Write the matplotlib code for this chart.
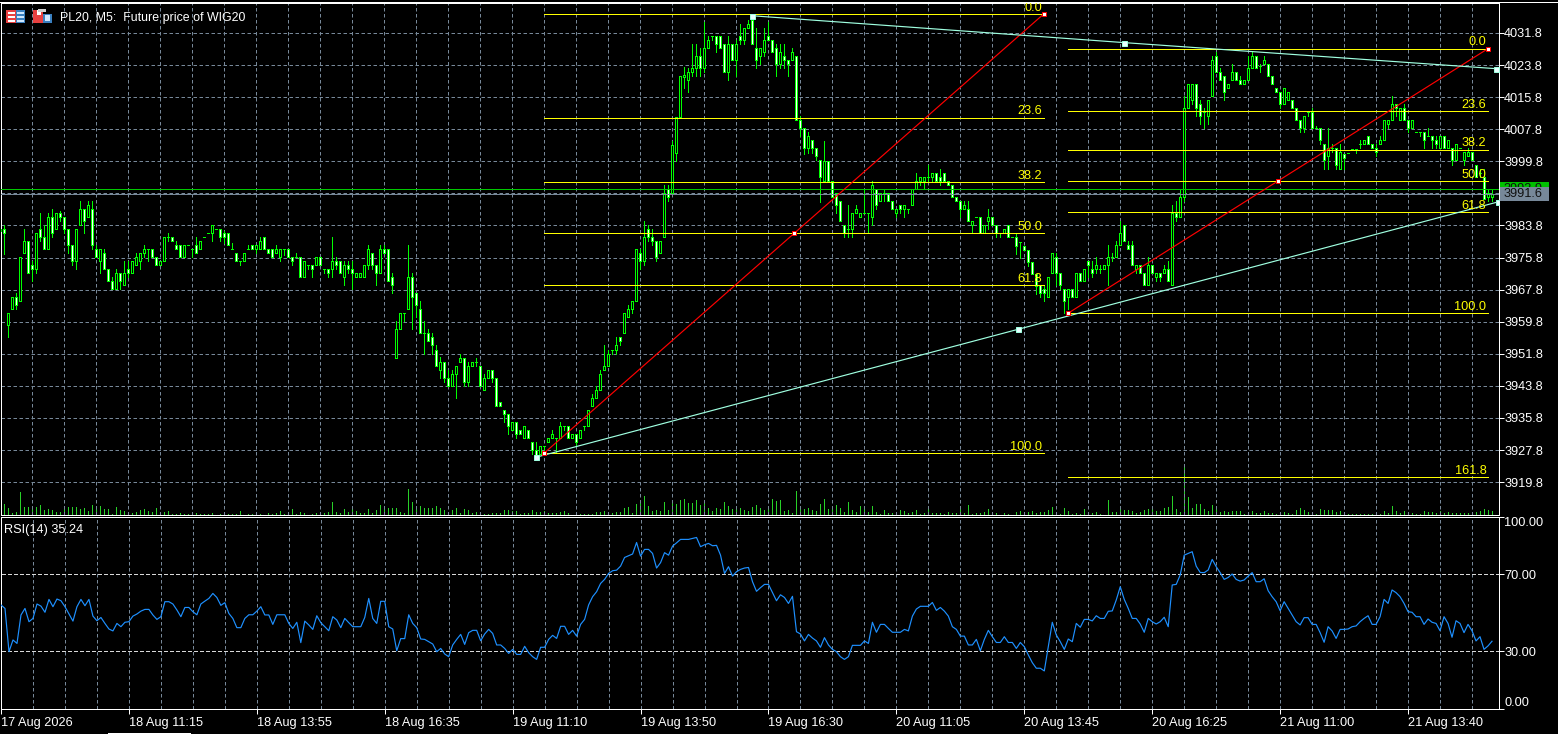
import numpy as np
import matplotlib
matplotlib.use('Agg')
import matplotlib.pyplot as plt
from matplotlib.patches import Rectangle
from matplotlib.lines import Line2D

#Candles, bar by bar
opens = [
  3983,3983,3959,3963,3966,3965,3977,3980,3974,3973,
  3983,3981,3978,3986,3983,3987,3986,3983,3979,3975,
  3984,3988,3986,3988,3978,3975,3977,3973,3970,3968,
  3972,3969,3973,3972,3974,3975,3977,3978,3978,3976,
  3974,3975,3981,3981,3979,3979,3976,3979,3978,3979,
  3978,3981,3982,3982,3983,3983,3982,3982,3978,3977,
  3975,3975,3978,3979,3978,3978,3981,3978,3978,3977,
  3976,3978,3978,3976,3976,3976,3971,3974,3974,3974,
  3976,3973,3973,3973,3975,3975,3971,3974,3973,3971,
  3971,3971,3974,3977,3974,3972,3978,3978,3971,3950.8,
  3958,3962,3963,3971,3967,3963,3957,3957,3956,3952.8,
  3947.8,3949.8,3945.8,3943.8,3946.8,3949.8,3950.8,3944.8,3948.8,3949.8,
  3948.8,3942.8,3945.8,3947.8,3945.8,3939.8,3937.8,3936.8,3932.8,3934.8,
  3932.8,3930.8,3932.8,3929.8,3927.8,3926.8,3928.8,3929.8,3930.8,3930.8,
  3930.8,3933.8,3933.8,3930.8,3931.8,3930.8,3933.8,3933.8,3938.8,3940.8,
  3942.8,3947.8,3948.8,3952.8,3952.8,3956,3957,3961,3962.9,3964.9,
  3976.9,3974.9,3982.9,3980.9,3979.9,3976.9,3980.9,3992.9,3991.9,4001.9,
  4010.9,4020.9,4020,4022,4023,4026,4023,4028,4031,4031,
  4031,4029,4022,4029,4025,4031,4030,4033,4035,4028,
  4026,4027,4031,4030,4028,4024,4026,4025,4025,4026,
  4010,4008,4003,4005,4003,4000,3994.8,3999.8,3994.8,3991.8,
  3989.8,3983.8,3982.8,3982.8,3986.8,3985.8,3986.8,3986.8,3985.8,3992.8,
  3989.8,3991.8,3991.8,3989.8,3986.8,3988.8,3987.8,3987.8,3988.8,3992.8,
  3994.8,3994.8,3995.8,3995.8,3996.8,3995.8,3996.8,3994.8,3993.8,3990.8,
  3989.8,3987.8,3987.8,3983.8,3985.8,3985.8,3981.8,3984.8,3985.8,3983.8,
  3981.8,3981.8,3983.8,3981,3980.8,3979.8,3978.8,3977.8,3974.8,3971.8,
  3969,3968,3966,3972,3976,3972,3968,3966,3968,3966,
  3972,3970,3975,3973,3973,3973,3973,3974,3976,3976,
  3979,3984,3979,3979,3973,3974,3972,3969,3974,3971,
  3972,3972,3973,3969,3987,3986,3991,4013,4015,4019,
  4014,4012,4011,4016,4026,4022,4021,4018,4020,4022,
  4020,4019,4020,4023,4026,4023.5,4024,4024,4021,4018,
  4017,4014,4015,4015,4013,4010,4008,4012,4012,4008,
  4008,4004,4001,4003,4003,3998,4001.5,4001.8,4002.8,4002.8,
  4004,4004,4006,4004,4003,4004,4005,4009,4010,4014,
  4010,4013,4010,4008,4007,4007,4007,4006,4006,4005,
  4003,4006,4003,4003,4000,4003,4000,4001,4002,3999,
  3997,3996,3990.8,3990.8]
closes = [
  3982.5,3982,3962,3966,3964,3976,3980,3972,3973,3982,
  3981,3978,3986,3982,3987,3986,3983,3979,3975,3983,
  3988,3985,3989,3979,3976,3978,3973,3970,3968,3972,
  3970,3972,3972,3975,3976,3977,3978,3978,3976,3974,
  3975,3981,3981,3980,3978,3976,3979,3979,3978,3977,
  3980,3981,3982,3984,3983,3981,3981,3979,3978,3975,
  3975,3977,3978,3978,3979,3980,3978,3977,3976,3978,
  3978,3978,3976,3975,3976,3971,3975,3974,3973,3976,
  3974,3973,3972,3975,3974,3972,3974,3973,3972,3972,
  3972,3974,3978,3974,3972,3978,3977,3970,3969,3958,
  3962,3962,3971,3966,3964,3957,3957,3955,3954,3948.8,
  3949.8,3945.8,3943.8,3946.8,3948.8,3950.8,3944.8,3948.8,3949.8,3949.8,
  3943.8,3945.8,3947.8,3945.8,3938.8,3938.8,3936.8,3933.8,3934.8,3931.8,
  3931.8,3933.8,3930.8,3927.8,3925.8,3928.8,3928.8,3930.8,3931.8,3930.8,
  3933.8,3933.8,3930.8,3931.8,3929.8,3932.8,3933.8,3937.8,3940.8,3942.8,
  3946.8,3948.8,3951.8,3952.8,3954,3955,3962,3963,3964.9,3977.9,
  3974.9,3980.9,3980.9,3979.9,3975.9,3979.9,3991.9,3990.9,4003.9,4010.9,
  4021,4021.3,4022,4023,4026,4023,4028,4030,4031,4029,
  4028,4022,4029,4025,4029,4030,4033,4034,4029,4025,
  4028,4030,4030,4027,4024,4027,4025,4024,4027,4010,
  4008,4003,4006,4003,4001,3996,3999.8,3994.8,3990.8,3988.8,
  3984.8,3981.8,3982.8,3986.8,3987.8,3986.8,3986.8,3986.8,3993.8,3988.8,
  3991.8,3991.8,3989.8,3987.8,3987.8,3987.8,3988.8,3987.8,3992.8,3994.8,
  3995.8,3995.8,3995.8,3996.8,3994.8,3994.8,3994.8,3993.8,3990.8,3989.8,
  3987.8,3988.8,3984.8,3984.8,3985.8,3981.8,3983.8,3985.8,3983.8,3981.8,
  3981.8,3982.8,3980.8,3981,3978.8,3979.8,3977.8,3974.8,3971.8,3968.8,
  3967,3967,3971,3977,3972,3969,3965,3968,3966,3972,
  3970,3973,3974,3972,3974,3973,3974,3976,3976,3979,
  3982,3980,3978,3974,3974,3972,3969,3974,3972,3972,
  3971,3973,3970,3987,3986,3991,4013,4019,4019,4013,
  4011,4012,4015,4025,4022,4020,4017,4019,4022,4020,
  4019,4020,4023,4026,4023,4023.5,4025,4021,4019,4017,
  4014,4018,4017,4013,4010,4008,4011,4012,4008,4008,
  4005,4000,4003,4003,3999,4002,4000.5,4001.8,4002.8,4002.8,
  4004,4005,4004,4003,4002,4005,4010,4010,4014,4013,
  4013,4010,4008,4010,4007,4007,4005,4006,4005,4004,
  4006,4003,4005,4000,4004,4003,4002,4002,4000,3996,
  3997,3990.5,3991.8,3991.6]
highs = [
  3984.2,3984,3962,3966,3967,3976,3983,3980,3975,3982,
  3987,3984,3987,3988,3987,3987.5,3986,3983,3979,3983,
  3990,3988,3990,3990,3979,3978,3978,3973,3971,3973,
  3972,3975,3975,3975,3977,3977,3979,3978,3978,3976,
  3975,3981,3982,3981,3980,3979,3979,3979,3978,3981,
  3980,3981,3982,3984,3983,3983,3982.5,3982,3979.5,3977,
  3975,3977,3979,3979,3979,3981,3981,3978,3978,3979,
  3978,3978,3978,3976,3977,3976,3975,3974,3974,3976,
  3976,3973,3973,3981,3976,3975,3975,3975,3975,3972,
  3972,3974,3979,3977,3974,3979,3979,3978,3972,3960,
  3962,3962,3979,3972,3967,3965,3960,3958,3957,3954,
  3951,3949.8,3947.8,3947.8,3948.8,3951.8,3950.8,3949.8,3949.8,3950.8,
  3948.8,3946.8,3947.8,3947.8,3945.8,3939.8,3937.8,3936.8,3934.8,3934.8,
  3932.8,3933.8,3932.8,3929.8,3929.8,3928.8,3928.8,3930.8,3932.8,3930.8,
  3934.8,3933.8,3933.8,3931.8,3931.8,3932.8,3933.8,3937.8,3941.8,3943.8,
  3947.8,3954,3952.8,3952.8,3956,3956,3962,3964,3964.9,3977.9,
  3977.9,3984.9,3983.9,3982.9,3979.9,3979.9,3993.9,3993.9,4004.9,4010.9,
  4021,4023.2,4023,4029,4029,4028,4034.5,4031,4031,4031,
  4031,4029,4031,4029,4030,4034,4033,4035,4035.3,4033,
  4028,4033,4034.5,4030,4029,4029,4029,4025,4028,4026,
  4011,4008,4007,4005,4003,4000,4004.9,3999.8,3994.8,3991.8,
  3989.8,3983.8,3988.8,3986.8,3988.8,3986.8,3993,3986.8,3994.8,3992.8,
  3992,3992.8,3991.8,3989.8,3987.8,3988.8,3988.8,3987.8,3992.8,3996.8,
  3995.8,3995.8,3998.8,3996.8,3996.8,3997.8,3996.8,3994.8,3993.8,3990.8,
  3989.8,3989.8,3989.8,3984.8,3985.8,3985.8,3983.8,3987.8,3985.8,3983.8,
  3981.8,3982.8,3983.8,3981,3981.8,3979.8,3978.8,3977.8,3974.8,3971.8,
  3969,3969,3971,3977,3977,3972,3968,3968,3968,3972,
  3972,3973,3975,3975,3976,3974,3974,3979,3977,3980,
  3985,3984,3980,3980,3974,3974,3972,3976,3974,3972,
  3972,3974,3975,3989,3990,3993,4016,4019,4019,4019,
  4015,4013,4015,4026,4027,4023,4021,4019,4024,4022,
  4021,4020,4026,4027,4026,4024,4026,4024,4021,4018,
  4017,4018,4017,4015,4013,4010,4011,4012,4013,4008.5,
  4008,4004,4008,4004,4003,4004,4001.5,4001.8,4002.8,4002.8,
  4005,4005,4006,4004,4004,4006,4010,4010,4016,4014,
  4013,4014,4010,4010,4007,4007,4007,4008,4006,4006,
  4006,4006,4005,4003,4004,4003,4002,4003,4002,3999,
  3998,3998,3993,3992.8]
lows = [
  3978,3976.8,3956,3963,3963,3965,3977,3972,3970,3972,
  3980,3978,3978,3981,3983,3985,3982,3977,3974,3973,
  3984,3982,3986,3978,3976,3972,3973,3970,3968,3968,
  3968,3969,3971,3972,3974,3973,3976,3975,3976,3974,
  3974,3975,3980,3980,3978,3976,3976,3979,3976,3977,
  3978,3981,3982,3980,3983,3980,3979.5,3979,3978,3975,
  3974,3975,3978,3978,3977,3978,3978,3977,3976,3977,
  3975,3976.5,3976,3974,3976,3971,3971,3973,3971,3974,
  3974,3972,3971,3971,3973,3972,3969,3972,3968,3971,
  3971,3971,3973,3973,3969,3972,3977,3970,3967,3950.8,
  3958,3960,3963,3958,3961,3957,3951.8,3955,3951.8,3948.8,
  3945.8,3944.8,3943.8,3943.8,3940.8,3949.8,3943.8,3943.8,3948.8,3948.8,
  3943.8,3942.8,3945.8,3944.8,3938.8,3938.8,3934.8,3931.8,3932.8,3930.8,
  3931.8,3930.8,3930.8,3926.8,3925.8,3926.8,3926.8,3929.8,3930.8,3927,
  3930.8,3932.8,3930.8,3930.8,3928.8,3930.8,3932.8,3933.8,3938.8,3940.8,
  3942.8,3947.8,3948.8,3951.8,3951.8,3954,3957,3961,3961.9,3964.9,
  3972.9,3973.9,3980,3978.9,3974.9,3976.9,3980.9,3989.9,3991.9,3999.9,
  4010.9,4018,4017,4021,4021,4021,4022,4028,4030,4027,
  4028,4022,4020,4025,4021,4029,4029,4033,4029,4023,
  4024,4026,4030,4027,4021,4023,4023,4021,4025,4010,
  4006,4001.5,4001.8,4001.8,4000,3989.7,3994.8,3994.8,3990.8,3986.8,
  3984.8,3980.8,3980.8,3981,3986.8,3985.8,3986.8,3981.8,3983.8,3987.8,
  3989.8,3989.8,3989.8,3987.8,3985.8,3986.8,3985.8,3986.8,3988.8,3992.8,
  3993.8,3993,3994.8,3994.8,3994.8,3993.8,3994.8,3993.8,3990.8,3989.8,
  3985.8,3987.8,3984.8,3981.8,3985.8,3981.8,3981.8,3982.8,3983.8,3980.8,
  3980.8,3981.8,3980.8,3981,3976.8,3975.8,3977.8,3973.8,3971.8,3966.8,
  3966,3965,3966,3972,3969,3968,3962,3963,3966,3966,
  3970,3970,3971,3971,3972,3972,3973,3969,3975,3976,
  3979,3980,3978,3974,3972,3972,3969,3969,3972,3970,
  3970,3972,3970,3969,3985,3986,3990,4013,4014,4011,
  4009,4008,4009,4016,4022,4020,4015,4018,4020,4020,
  4019,4019,4020,4023,4023,4022,4024,4021,4019,4017,
  4013,4014,4015,4013,4010,4007,4007,4011,4008,4008,
  4004,3998,3998,4002,3998,3998,3998,4001.8,4002.8,4001.8,
  4003,4004,4004,4003,4001,4004,4005,4008,4010,4011,
  4010,4010,4007,4008,4007,4006,4003,4006,4003,4003,
  4003,4003,4003,3999,4000,4003,3999,4001,4000,3996,
  3996,3990.5,3989.8,3989.8]

#Tick volume, in the units of the hidden volume scale
volumes = [
  2,11,7,2,3,23,8,8,7,8,
  10,5,6,5,3,3,7,8,8,8,
  6,7,4,10,7,9,6,6,1,8,
  5,4,2,2,3,5,6,4,3,7,
  1,3,4,1,1,2,1,1,2,2,
  1,1,1,2,0,1,1,1,1,1,
  4,0,1,1,1,1,0,2,1,2,
  4,1,0,6,1,3,2,0,1,2,
  2,2,3,13,3,2,6,3,6,4,
  2,2,6,2,5,10,7,7,7,7,
  3,2,26,13,9,9,7,7,7,9,
  7,5,3,5,7,2,6,5,2,3,
  1,1,1,2,2,2,5,5,4,4,
  1,2,2,5,3,3,4,2,2,2,
  3,4,2,0,2,1,1,1,1,3,
  3,4,1,2,3,3,7,8,2,11,
  13,19,9,4,5,4,13,5,13,11,
  15,16,12,12,15,10,13,7,4,7,
  6,13,9,6,9,7,5,4,8,10,
  7,5,7,16,14,15,4,5,2,24,
  8,6,7,5,4,11,16,6,6,10,
  7,3,13,5,3,9,9,3,9,3,
  1,5,2,2,0,5,4,2,3,5,
  1,2,6,2,2,2,1,3,2,2,
  7,2,10,1,2,2,3,6,2,2,
  0,2,1,0,3,4,1,3,4,2,
  3,3,5,8,0,1,7,4,1,2,
  1,6,1,2,3,1,0,15,3,3,
  7,5,5,4,2,3,5,6,7,4,
  4,7,8,19,6,3,51,18,7,11,
  11,6,4,10,7,3,4,3,4,4,
  4,1,3,4,2,2,4,2,2,1,
  2,3,2,1,5,7,5,3,2,1,
  6,5,5,5,3,4,1,1,1,1,
  1,1,1,1,1,1,4,2,9,4,
  2,4,2,2,1,1,4,3,3,2,
  4,2,3,2,2,2,2,2,1,3,
  4,6,5,4]

rsi_values = [
  54.1,52.3,29.8,35.9,34.1,48.9,52.3,45.4,47.1,54.6,
  53.5,50.3,57.0,53.2,57.2,56.3,53.2,49.4,45.7,53.2,
  57.0,53.7,57.0,48.3,45.9,47.6,44.5,41.6,40.6,44.5,
  42.8,45.1,45.4,48.3,49.4,50.9,51.8,51.8,48.9,46.6,
  48.0,55.8,55.8,54.6,51.5,48.0,52.8,52.8,50.6,49.0,
  54.6,56.1,57.5,60.1,58.0,53.9,55.3,49.7,47.1,42.3,
  42.3,47.1,49.0,49.0,50.9,53.2,48.9,48.9,44.0,49.0,
  49.0,49.0,44.5,41.9,45.1,34.5,45.7,43.7,41.4,48.5,
  44.9,42.8,40.7,48.0,46.3,42.3,47.1,44.9,42.8,42.8,
  42.8,47.6,57.5,47.1,44.5,56.0,56.0,42.8,41.6,30.3,
  36.6,36.6,49.0,44.5,42.3,36.4,36.2,35.0,33.8,29.8,
  31.5,28.6,27.2,33.3,36.2,38.8,33.6,39.7,40.9,40.9,
  35.5,39.0,41.4,39.3,33.3,33.3,31.5,28.9,31.0,28.4,
  28.4,32.6,29.3,27.2,25.8,32.1,32.1,36.2,38.3,36.7,
  43.0,43.0,38.8,40.9,37.9,44.0,46.6,54.1,58.4,61.0,
  65.3,67.4,70.5,71.9,72.2,74.3,78.8,79.7,80.6,86.6,
  79.5,83.0,83.0,80.9,73.3,76.1,81.3,80.0,84.7,86.4,
  88.2,88.2,88.2,88.7,89.2,84.4,85.4,86.1,84.9,85.1,
  80.0,70.5,74.0,69.1,71.4,72.6,73.3,73.6,66.2,61.2,
  63.1,64.8,64.8,60.6,56.3,59.4,58.0,54.9,58.6,40.2,
  39.0,35.4,38.8,36.9,35.4,32.1,37.1,33.3,31.0,29.8,
  27.2,25.8,27.2,33.1,33.1,33.1,35.4,34.1,45.1,39.9,
  44.0,44.0,41.9,39.9,39.9,39.9,41.4,40.6,48.3,52.0,
  53.4,53.4,53.4,55.4,51.3,52.8,50.9,48.3,42.8,41.4,
  37.9,37.9,33.3,33.3,36.2,30.3,36.2,40.9,37.6,34.6,
  34.6,37.6,34.6,34.6,31.5,34.6,32.4,28.1,24.1,21.2,
  21.2,19.8,32.4,45.1,38.5,35.0,31.0,36.4,35.0,44.5,
  42.5,46.6,46.6,45.8,48.5,47.1,47.1,50.8,51.0,56.7,
  63.6,57.0,52.3,47.1,47.1,44.2,39.9,47.1,45.4,44.2,
  45.4,47.7,42.8,64.5,64.8,69.7,80.0,80.9,81.8,74.3,
  71.0,70.9,72.3,77.8,74.0,70.9,67.4,68.4,70.2,67.4,
  66.5,67.1,69.1,70.9,66.2,66.2,67.7,61.5,58.4,55.8,
  51.1,55.8,52.3,48.9,45.4,43.7,47.5,47.5,44.0,44.0,
  39.7,34.7,42.8,40.6,36.7,41.4,41.4,41.6,42.8,43.2,
  45.4,47.1,48.5,44.0,44.0,48.0,57.0,54.9,61.9,60.5,
  58.4,54.9,50.6,50.3,48.0,48.0,44.0,46.8,45.1,44.5,
  40.7,48.0,44.5,37.3,45.9,44.5,39.7,44.0,40.7,35.4,
  37.6,31.0,32.8,35.24]

price_ticks = [4031.8,4023.8,4015.8,4007.8,3999.8,3991.8,3983.8,3975.8,
               3967.8,3959.8,3951.8,3943.8,3935.8,3927.8,3919.8]
rsi_ticks = [0,30,70,100]
date_labels = ['17 Aug 2026','18 Aug 11:15','18 Aug 13:55','18 Aug 16:35',
               '19 Aug 11:10','19 Aug 13:50','19 Aug 16:30','20 Aug 11:05',
               '20 Aug 13:45','20 Aug 16:25','21 Aug 11:00','21 Aug 13:40']

bid_price = 3991.6
ask_price = 3992.9

#Fibonacci objects: levels with their prices, start bar, end bar, diagonal
fib1_labels = ['0.0','23.6','38.2','50.0','61.8','100.0']
fib1_prices = [4036.6,4010.7,3994.7,3981.8,3968.9,3927.0]
fib1_bars = [136,261]
fib2_labels = ['0.0','23.6','38.2','50.0','61.8','100.0','161.8']
fib2_prices = [4027.9,4012.3,4002.7,3994.9,3987.1,3961.9,3921.1]
fib2_bars = [267,372]

#Channel lines, three anchor points each
upper_bars = [188,281,374]
upper_prices = [4036.1,4029.4,4022.9]
lower_bars = [134,254.5,374.6]
lower_prices = [3926.0,3957.9,3989.7]

W, H = 1558, 734
LINE = 0.72 #one pixel at dpi 100
THIN = 0.85 #for diagonal lines, which lose brightness when smoothed
DASH = (0,(3.5,2.5))
FONT = 'Liberation Sans'
SIZE = 9.2
GRID = '#778899'
CANDLE = '#00FF00'
VOLUME = '#28D028'
YELLOW = '#FFFF00'
CYAN = '#9FFFE0'

plt.rcParams['font.family'] = [FONT,'DejaVu Sans']
plt.rcParams['font.size'] = SIZE

fig = plt.figure(figsize=(W/100,H/100),dpi=100,facecolor='black')

def pane(top,bottom):
  left, right = 1, 1498.5
  return fig.add_axes([left/W,1-bottom/H,(right-left)/W,(bottom-top)/H])

ax_v = pane(3.3,515)
ax_p = pane(3.3,515)
ax_r = pane(516.7,709)

x = np.arange(len(closes))
xlim = (0.25,374.625)

#Volume sits under the candles on its own scale
ax_v.set_facecolor('black')
ax_v.vlines(x,0,volumes,color=VOLUME,linewidth=LINE,antialiased=False)
ax_v.set_xlim(xlim)
ax_v.set_ylim(0,512)
ax_v.axis('off')

#Price pane
ax_p.patch.set_visible(False)
ax_p.set_xlim(xlim)
ax_p.set_ylim(3911.6,4039.2)
ax_p.set_xticks(np.arange(8,374,8))
ax_p.tick_params(axis='x',length=0,labelbottom=False)
ax_p.yaxis.tick_right()
ax_p.set_yticks(price_ticks,['' if t == 3991.8 else '%.1f' % t for t in price_ticks])
ax_p.tick_params(axis='y',colors='white',length=3.6,width=LINE,pad=0.5,labelsize=SIZE)
ax_p.grid(True,color=GRID,linewidth=LINE,linestyle=DASH,zorder=0)
ax_p.set_axisbelow(True)

ax_p.vlines(x,lows,highs,color=CANDLE,linewidth=LINE,antialiased=False,zorder=2)
body_low = np.minimum(opens,closes)
body_size = np.abs(np.array(closes)-np.array(opens))
face = ['white' if c < o else 'black' for o, c in zip(opens,closes)]
ax_p.bar(x,body_size,bottom=body_low,width=0.5,color=face,edgecolor=CANDLE,linewidth=LINE,antialiased=False,zorder=3)

ax_p.axhline(ask_price,color='#00C800',linewidth=LINE,antialiased=False,zorder=4)
ax_p.axhline(bid_price,color=GRID,linewidth=LINE,antialiased=False,zorder=4)

#Fibonacci levels, diagonal and handles
def draw_fib(bars,prices,labels):
  ax_p.hlines(prices,bars[0],bars[1],color=YELLOW,linewidth=LINE,antialiased=False,zorder=5)
  for p, s in zip(prices,labels):
    ax_p.annotate(s,(bars[1],p),xytext=(-1.2,2.3),textcoords='offset points',ha='right',va='baseline',
                  color=YELLOW,fontsize=SIZE,clip_on=True,zorder=7)
  x_d = [bars[0],(bars[0]+bars[1])/2,bars[1]]
  y_d = [prices[-1 if labels[-1] == '100.0' else -2],prices[3],prices[0]]
  ax_p.plot(x_d,y_d,color='#FF0000',linewidth=THIN,zorder=5)
  ax_p.plot(x_d,y_d,linestyle='none',marker='s',markersize=3.4,markerfacecolor='white',
            markeredgecolor='#FF0000',markeredgewidth=LINE,zorder=6)

draw_fib(fib1_bars,fib1_prices,fib1_labels)
draw_fib(fib2_bars,fib2_prices,fib2_labels)

#Channel lines
for bars, prices in [(upper_bars,upper_prices),(lower_bars,lower_prices)]:
  ax_p.plot(bars,prices,color=CYAN,linewidth=THIN,zorder=5)
  ax_p.plot(bars,prices,linestyle='none',marker='s',markersize=3.6,markerfacecolor='#E8FFFF',
            markeredgecolor=CYAN,markeredgewidth=LINE,zorder=6)

#Ask and bid boxes on the price scale
trans = ax_p.get_yaxis_transform()
box_x = 1+1.5/1497.5
box_w = 49/1497.5
text_x = 1+5.5/1497.5
ax_p.add_patch(Rectangle((box_x,ask_price-1.75),box_w,3.5,transform=trans,facecolor='#00C000',clip_on=False,zorder=8))
ax_p.text(text_x,ask_price,'%.1f' % ask_price,transform=trans,color='#101010',va='center',ha='left',fontsize=SIZE,zorder=8.5)
ax_p.add_patch(Rectangle((box_x,bid_price-1.75),box_w,3.5,transform=trans,facecolor=GRID,clip_on=False,zorder=9))
ax_p.text(text_x,bid_price,'%.1f' % bid_price,transform=trans,color='#101010',va='center',ha='left',fontsize=SIZE,zorder=9.5)

#RSI pane
ax_r.set_facecolor('black')
ax_r.set_xlim(xlim)
ax_r.set_ylim(0,100)
ax_r.set_xticks(np.arange(0,374,32),date_labels,ha='left')
ax_r.set_xticks(np.arange(8,374,8),minor=True)
ax_r.tick_params(axis='x',which='major',colors='white',length=3.6,width=LINE,pad=2,labelsize=SIZE)
ax_r.tick_params(axis='x',which='minor',length=0)
ax_r.yaxis.tick_right()
ax_r.set_yticks(rsi_ticks,['%.2f' % t for t in rsi_ticks])
ax_r.tick_params(axis='y',colors='white',length=3.6,width=LINE,pad=0.5,labelsize=SIZE)
#The end labels stay inside the pane height
for t, lab in zip(rsi_ticks,ax_r.get_yticklabels()):
  if t == 100:
    lab.set_verticalalignment('top')
  if t == 0:
    lab.set_verticalalignment('bottom')
ax_r.set_axisbelow(True)
ax_r.grid(True,axis='x',which='both',color=GRID,linewidth=LINE,linestyle=DASH)
ax_r.hlines([30,70],xlim[0],xlim[1],color='#D8D8D8',linewidth=LINE,linestyles=[DASH],antialiased=False,zorder=1)
ax_r.plot(x,rsi_values,color='#1E90FF',linewidth=THIN,zorder=3)
ax_r.text(3/1497.5,0.93,'RSI(14) %.2f' % rsi_values[-1],transform=ax_r.transAxes,color='white',va='center',ha='left',fontsize=SIZE)

for ax in [ax_p,ax_r]:
  for side in ['left','top','right','bottom']:
    ax.spines[side].set_color('white')
    ax.spines[side].set_linewidth(LINE)

#Window furniture drawn in pixels
def px_box(x0,y0,x1,y1,color):
  fig.add_artist(Rectangle((x0/W,1-y1/H),(x1-x0)/W,(y1-y0)/H,transform=fig.transFigure,
                           facecolor=color,edgecolor='none',zorder=10))

fig.add_artist(Line2D([0,1],[1-1.5/H,1-1.5/H],color='white',linewidth=LINE,zorder=10))
px_box(108,733,191,734,'white')

#Chart type icons in the corner
px_box(6,10,16,23,'#E84040')
px_box(16,10,25,23,'#3A80C0')
for y0 in [12,16,20]:
  px_box(8,y0,15,y0+2,'white')
  px_box(17,y0,24,y0+2,'#CFE8FF')
px_box(33,10,43,23,'#E84040')
px_box(43,14,52,23,'#3A80C0')
px_box(37,10,41,15,'white')
px_box(38,9,46,12,'#D0D0D0')
px_box(45,15,50,21,'#CFE8FF')

fig.text(60/W,1-17.5/H,'PL20, M5:  Future price of WIG20',color='white',va='center',ha='left',fontsize=8.9,zorder=10)

fig.savefig('out.png',dpi=100,facecolor='black')
